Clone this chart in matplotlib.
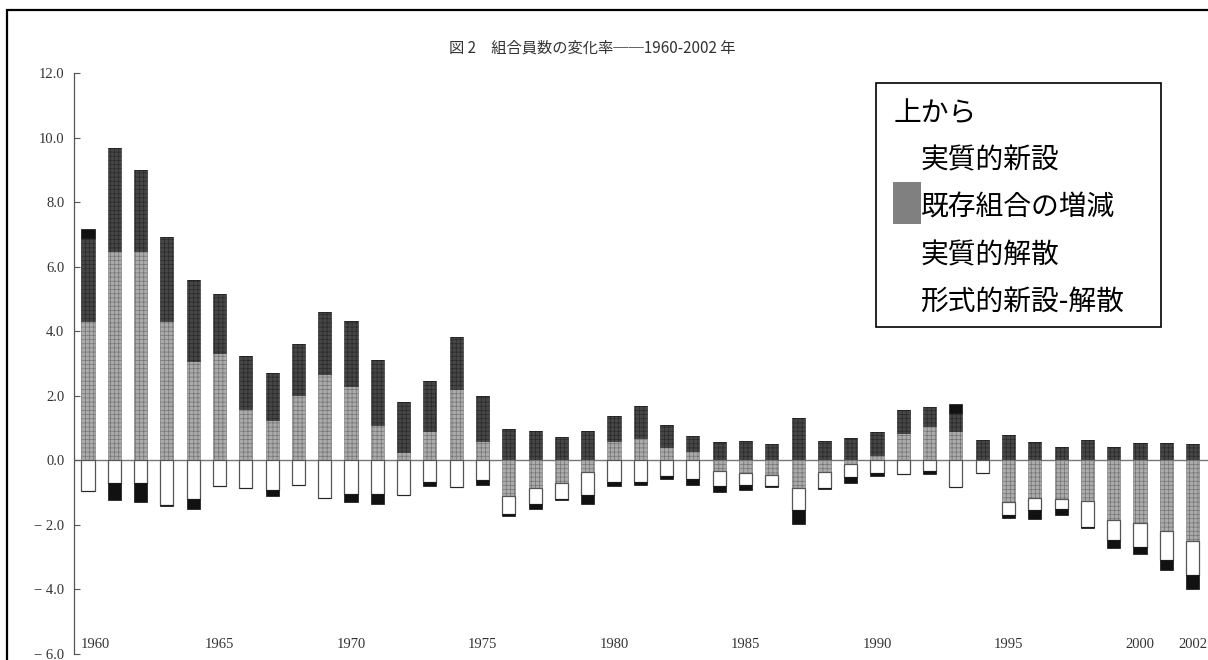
import numpy as np
import matplotlib
matplotlib.use("Agg")
import matplotlib.pyplot as plt
from matplotlib.patches import Rectangle

plt.rcParams['font.family'] = ['Noto Sans CJK JP', 'DejaVu Sans']
plt.rcParams['hatch.linewidth'] = 0.5

years = list(range(1960, 2003))

# 既存組合の増減
existing = [4.32, 6.50, 6.50, 4.32, 3.07, 3.32, 1.59, 1.24, 2.03, 2.68,
            2.29, 1.08, 0.25, 0.90, 2.21, 0.59, -1.11, -0.86, -0.70, -0.37,
            0.61, 0.68, 0.41, 0.28, -0.34, -0.39, -0.44, -0.86, -0.37, -0.12,
            0.18, 0.85, 1.05, 0.91, 0.00, -1.30, -1.17, -1.20, -1.27, -1.86,
            -1.93, -2.20, -2.50]
# 実質的新設
new_form = [2.56, 3.19, 2.51, 2.60, 2.53, 1.82, 1.63, 1.47, 1.57, 1.93,
            2.04, 2.04, 1.55, 1.55, 1.61, 1.39, 0.98, 0.90, 0.73, 0.90,
            0.75, 1.01, 0.70, 0.46, 0.57, 0.59, 0.52, 1.31, 0.61, 0.68,
            0.71, 0.72, 0.60, 0.57, 0.63, 0.80, 0.56, 0.41, 0.63, 0.42,
            0.55, 0.55, 0.50]
# 実質的解散
dissolution = [-0.96, -0.70, -0.70, -1.37, -1.20, -0.80, -0.86, -0.91, -0.77, -1.17,
               -1.04, -1.04, -1.06, -0.67, -0.83, -0.60, -0.55, -0.48, -0.50, -0.69,
               -0.68, -0.68, -0.50, -0.58, -0.44, -0.36, -0.36, -0.69, -0.49, -0.40,
               -0.40, -0.42, -0.33, -0.84, -0.38, -0.40, -0.36, -0.30, -0.80, -0.60,
               -0.77, -0.88, -1.05]
# 形式的新設-解散
formal = [0.29, -0.52, -0.60, -0.03, -0.31, 0.00, 0.00, -0.20, 0.00, 0.00,
          -0.25, -0.31, 0.00, -0.13, 0.00, -0.15, -0.07, -0.17, -0.03, -0.28,
          -0.12, -0.07, -0.09, -0.17, -0.19, -0.16, -0.02, -0.41, -0.03, -0.17,
          -0.08, 0.00, -0.08, 0.26, 0.00, -0.10, -0.28, -0.18, -0.04, -0.27,
          -0.20, -0.32, -0.45]

yticks = [12.0, 10.0, 8.0, 6.0, 4.0, 2.0, 0.0, -2.0, -4.0, -6.0]
ytick_labels = ["12.0", "10.0", "8.0", "6.0", "4.0", "2.0", "0.0", "− 2.0", "− 4.0", "− 6.0"]
xlabel_years = [1960, 1965, 1970, 1975, 1980, 1985, 1990, 1995, 2000, 2002]

title = "図 2　組合員数の変化率──1960-2002 年"
legend_head = "上から"
legend_items = ["実質的新設", "既存組合の増減", "実質的解散", "形式的新設-解散"]

W, H = 1208, 660
fig = plt.figure(figsize=(W / 100, H / 100), dpi=100)
fig.patch.set_facecolor("white")

# axes placement in pixels
ax_left, ax_right, ax_top, ax_bot = 74, 1208, 73, 654
ax = fig.add_axes([ax_left / W, 1 - ax_bot / H, (ax_right - ax_left) / W, (ax_bot - ax_top) / H])

x = np.arange(len(years))
e = np.array(existing)
n = np.array(new_form)
d = np.array(dissolution)
f = np.array(formal)

e_pos = np.clip(e, 0, None)
e_neg = np.clip(e, None, 0)
f_pos = np.clip(f, 0, None)
f_neg = np.clip(f, None, 0)

bw = 0.5
gray_kw = dict(color="#ababab", edgecolor="#747474", hatch="++++", linewidth=0.4)
dark_kw = dict(color="#464646", edgecolor="#2a2a2a", hatch="++++", linewidth=0.4)
white_kw = dict(color="white", edgecolor="#555555", linewidth=0.9)
black_kw = dict(color="#111111", edgecolor="#111111", linewidth=0.5)

# positive part
ax.bar(x, e_pos, bw, bottom=0, **gray_kw)
ax.bar(x, n, bw, bottom=e_pos, **dark_kw)
ax.bar(x, f_pos, bw, bottom=e_pos + n, **black_kw)
# negative part
ax.bar(x, e_neg, bw, bottom=0, **gray_kw)
ax.bar(x, d, bw, bottom=e_neg, **white_kw)
ax.bar(x, f_neg, bw, bottom=e_neg + d, **black_kw)

ax.axhline(0, color="#777777", lw=1.0, zorder=0.5)

ax.set_xlim(-14 / 26.3, (1208 - 88) / 26.3)
ax.set_ylim(-6, 12)
for s in ["top", "right", "bottom"]:
    ax.spines[s].set_visible(False)
ax.spines["left"].set_color("#555555")
ax.spines["left"].set_linewidth(0.9)
ax.set_xticks([])
ax.set_yticks(yticks)
ax.set_yticklabels(ytick_labels, fontfamily=["Liberation Serif", "DejaVu Serif"], fontsize=10.5, color="#333333")
ax.tick_params(axis="y", direction="in", length=4, width=0.8, color="#555555", pad=7)

for yr in xlabel_years:
    i = years.index(yr)
    off = 0.28 if yr == 1960 else 0.0
    ax.text(i + off, -5.72, str(yr), ha="center", va="center",
            fontfamily=["Liberation Serif", "DejaVu Serif"], fontsize=10.5, color="#333333")

# title
fig.text(592 / W, 1 - 48 / H, title, ha="center", va="center", fontsize=11, color="#333333")

# legend box
fig.patches.append(Rectangle((876 / W, 1 - 327 / H), (1161 - 876) / W, (327 - 83) / H,
                             transform=fig.transFigure, fill=True, facecolor="white",
                             edgecolor="black", linewidth=1.2, zorder=5))
fig.patches.append(Rectangle((893 / W, 1 - 224 / H), (921 - 893) / W, (224 - 182) / H,
                             transform=fig.transFigure, facecolor="#808080",
                             edgecolor="none", zorder=6))
fig.text(894 / W, 1 - 113 / H, legend_head, ha="left", va="center", fontsize=20, zorder=7)
for lab, yy in zip(legend_items, [160, 208, 255, 302]):
    fig.text(921 / W, 1 - yy / H, lab, ha="left", va="center", fontsize=20, zorder=7)

# outer frame
fig.patches.append(Rectangle((7 / W, -0.02), 1.1, 1 - 10 / H + 0.02,
                             transform=fig.transFigure, fill=False,
                             edgecolor="black", linewidth=1.6, zorder=10))

fig.savefig("out.png", dpi=100)
